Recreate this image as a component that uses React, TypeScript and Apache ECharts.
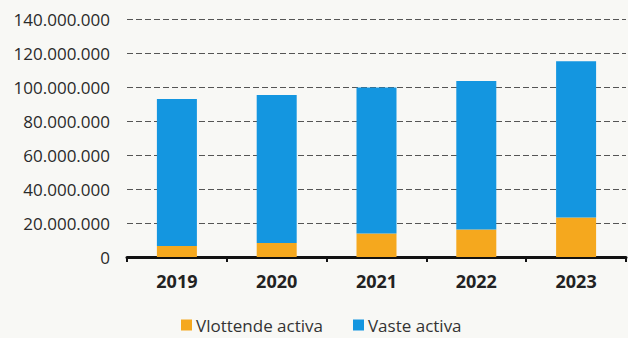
import React, { useEffect, useRef } from "react";
import * as echarts from "echarts";

const years = ["2019", "2020", "2021", "2022", "2023"];
const vlottendeActiva = [6500000, 8300000, 13800000, 16200000, 23300000];
const vasteActiva = [86500000, 87000000, 85900000, 87300000, 91900000];
const seriesNames = ["Vlottende activa", "Vaste activa"];

const fmt = (v: number) => {
  if (v === 0) return "0";
  return String(Math.round(v)).replace(/\B(?=(\d{3})+(?!\d))/g, ".");
};

export default function App() {
  const ref = useRef<HTMLDivElement>(null);
  useEffect(() => {
    if (!ref.current) return;
    const chart = echarts.init(ref.current, null, { renderer: "svg" });
    chart.setOption({
      animation: false,
      backgroundColor: "#f8f8f5",
      textStyle: { fontFamily: "Open Sans" },
      grid: { left: 127, right: 2, top: 19, bottom: 81, containLabel: false },
      legend: {
        data: seriesNames,
        top: 315,
        left: 181,
        padding: 0,
        itemWidth: 11,
        itemHeight: 11,
        itemGap: 30,
        icon: "rect",
        textStyle: { fontSize: 17, lineHeight: 20, color: "#333", fontFamily: "Open Sans", padding: [0, 0, 0, -1] },
      },
      xAxis: {
        type: "category",
        data: years,
        axisLine: { lineStyle: { color: "#111", width: 3 } },
        axisTick: { show: true, length: 5, lineStyle: { color: "#111", width: 2 } },
        axisLabel: { fontSize: 18, color: "#222", fontWeight: "bold", margin: 15 },
      },
      yAxis: {
        type: "value",
        min: 0,
        max: 140000000,
        interval: 20000000,
        axisLine: { show: false },
        axisTick: { show: false },
        axisLabel: {
          fontSize: 17,
          color: "#2a2a2a",
          margin: 17,
          formatter: (v: number) => fmt(v),
        },
        splitLine: { lineStyle: { color: "#555", type: [6, 3], width: 1.2 } },
      },
      series: [
        {
          name: seriesNames[0],
          type: "bar",
          stack: "total",
          data: vlottendeActiva,
          barWidth: 40,
          itemStyle: { color: "#F5A81E" },
        },
        {
          name: seriesNames[1],
          type: "bar",
          stack: "total",
          data: vasteActiva,
          barWidth: 40,
          itemStyle: { color: "#1496E0" },
        },
      ],
    });
    return () => chart.dispose();
  }, []);
  return (
    <div
      ref={ref}
      style={{ position: "fixed", left: 0, top: 0, width: 628, height: 338 }}
    />
  );
}
